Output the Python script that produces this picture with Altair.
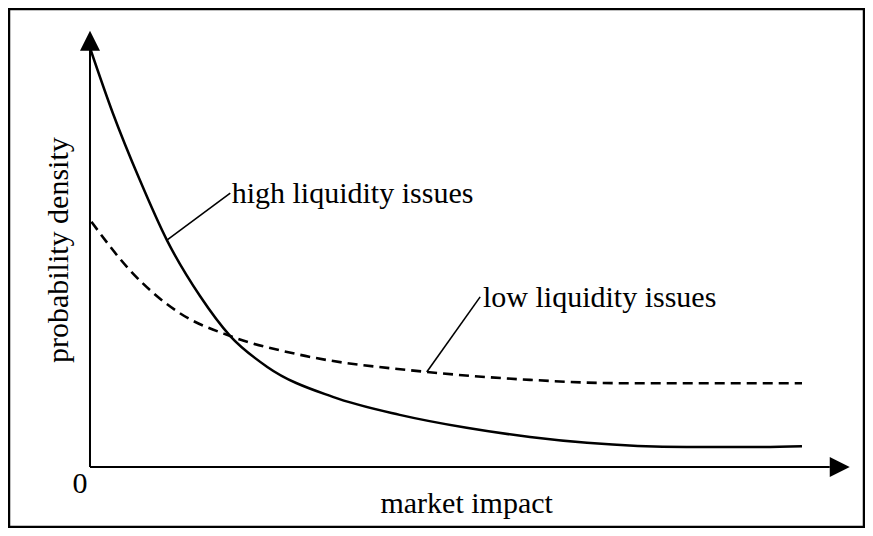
import altair as alt
import pandas as pd

# ---- data (x: market impact, y: probability density) ----
high_x = [0.01, 0.32, 0.70, 1.08, 1.545, 1.97, 2.49, 3.41, 4.35, 5.29, 6.18, 6.98, 8.38, 9.31, 10.0]
high_y = [1.000, 0.849, 0.688, 0.544, 0.410, 0.314, 0.240, 0.168, 0.125, 0.094, 0.072, 0.058, 0.048, 0.048, 0.050]

low_x = [0.02, 0.56, 1.26, 1.97, 2.95, 4.73, 6.18, 7.44, 8.57, 10.0]
low_y = [0.588, 0.472, 0.369, 0.314, 0.269, 0.228, 0.209, 0.201, 0.201, 0.201]

# axis lines (start / end) and arrow heads
axis_x0, axis_x1 = [0.0, 0.0], [10.39, 0.0]
axis_y0, axis_y1 = [0.0, 0.0], [0.0, 1.0]
arrow_x = [0.0, 10.53]
arrow_y = [1.022, 0.0]
arrow_shape = ["M0,-1L1,1L-1,1Z", "M1,0L-1,-1L-1,1Z"]

# annotation leader lines
lead_x0 = [1.08, 4.73]
lead_y0 = [0.544, 0.228]
lead_x1 = [1.97, 5.48]
lead_y1 = [0.657, 0.408]

# annotation labels (left aligned)
ann_text = ["high liquidity issues", "low liquidity issues"]
ann_x = [1.99, 5.52]
ann_y = [0.633, 0.384]

# axis labels
xlab_text, xlab_x, xlab_y = ["market impact"], [5.29], [-0.110]
zero_text, zero_x, zero_y = ["0"], [-0.14], [-0.062]
ylab_text, ylab_x, ylab_y = ["probability density"], [-0.43], [0.52]

FONT = "Liberation Serif"
FS = 30

xs = alt.Scale(domain=[-1.1376, 10.871], nice=False, zero=False)
ys = alt.Scale(domain=[-0.1439, 1.0983], nice=False, zero=False)


def X(f="x"):
    return alt.X(f"{f}:Q", scale=xs, axis=None)


def Y(f="y"):
    return alt.Y(f"{f}:Q", scale=ys, axis=None)


high_df = pd.DataFrame({"x": high_x, "y": high_y})
low_df = pd.DataFrame({"x": low_x, "y": low_y})
axes_df = pd.DataFrame({"x": axis_x0, "y": axis_y0, "x2": axis_x1, "y2": axis_y1})
arrow_df = pd.DataFrame({"x": arrow_x, "y": arrow_y, "shape": arrow_shape})
lead_df = pd.DataFrame({"x": lead_x0, "y": lead_y0, "x2": lead_x1, "y2": lead_y1})
ann_df = pd.DataFrame({"x": ann_x, "y": ann_y, "t": ann_text})
xlab_df = pd.DataFrame({"x": xlab_x, "y": xlab_y, "t": xlab_text})
zero_df = pd.DataFrame({"x": zero_x, "y": zero_y, "t": zero_text})
ylab_df = pd.DataFrame({"x": ylab_x, "y": ylab_y, "t": ylab_text})

high_line = alt.Chart(high_df).mark_line(
    color="black", strokeWidth=2.5, interpolate="monotone"
).encode(x=X(), y=Y())

low_line = alt.Chart(low_df).mark_line(
    color="black", strokeWidth=2.6, interpolate="monotone", strokeDash=[10, 6]
).encode(x=X(), y=Y())

axes = alt.Chart(axes_df).mark_rule(color="black", strokeWidth=2).encode(
    x=X(), y=Y(), x2="x2:Q", y2="y2:Q"
)

arrows = alt.Chart(arrow_df).mark_point(
    filled=True, color="black", opacity=1, size=400, strokeWidth=0
).encode(
    x=X(), y=Y(),
    shape=alt.Shape("shape:N", scale=None, legend=None),
)

leads = alt.Chart(lead_df).mark_rule(color="black", strokeWidth=1.6).encode(
    x=X(), y=Y(), x2="x2:Q", y2="y2:Q"
)

ann = alt.Chart(ann_df).mark_text(
    font=FONT, fontSize=FS, align="left", baseline="alphabetic", color="black"
).encode(x=X(), y=Y(), text="t:N")

xlab = alt.Chart(xlab_df).mark_text(
    font=FONT, fontSize=FS, align="center", baseline="alphabetic", color="black"
).encode(x=X(), y=Y(), text="t:N")

zero = alt.Chart(zero_df).mark_text(
    font=FONT, fontSize=FS, align="center", baseline="alphabetic", color="black"
).encode(x=X(), y=Y(), text="t:N")

ylab = alt.Chart(ylab_df).mark_text(
    font=FONT, fontSize=FS, align="center", baseline="middle", angle=270, color="black"
).encode(x=X(), y=Y(), text="t:N")

chart = alt.layer(
    axes, arrows, low_line, high_line, leads, ann, xlab, zero, ylab
).properties(
    width=857,
    height=520,
    padding=1,
    autosize=alt.AutoSizeParams(type="fit", contains="padding"),
    background="white",
).configure_view(stroke="black", strokeWidth=2.5)

chart.save("out.html", embed_options={"renderer": "svg", "actions": False})
